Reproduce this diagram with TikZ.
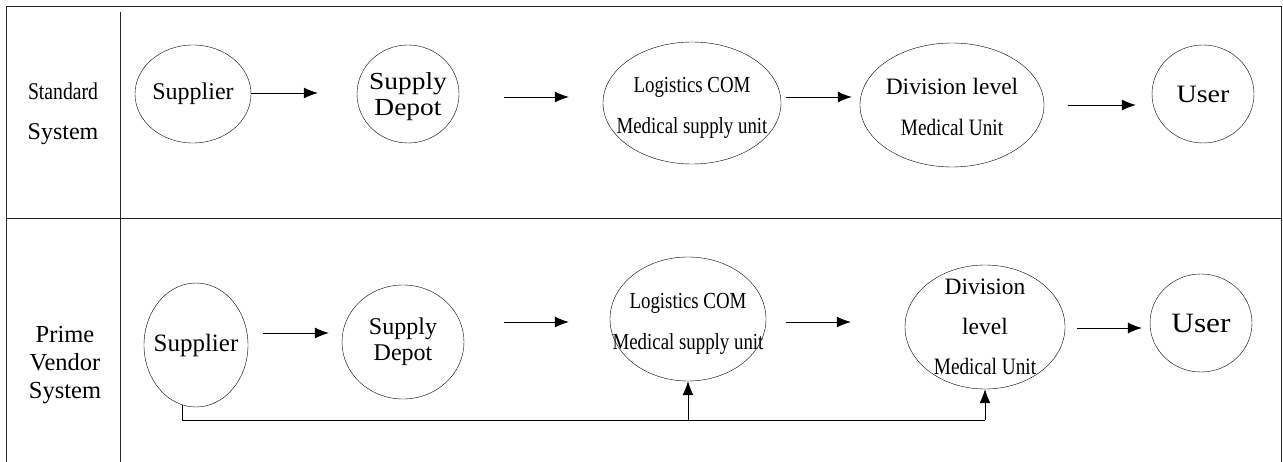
\documentclass[tikz,border=0pt]{standalone}
\usepackage{fontspec}
\setmainfont{Liberation Serif}
\newfontfamily\narrowfont[FakeStretch=0.82]{Liberation Serif}
\newfontfamily\wideserif[FakeStretch=1.12]{Liberation Serif}
\usetikzlibrary{shapes.geometric,arrows.meta,calc}
\begin{document}
\begin{tikzpicture}[x=1pt,y=-1pt,
    stage/.style={ellipse,draw,thin,inner sep=-30pt,align=center},
    arr/.style={thick,-{Latex[length=14pt,width=11pt]}},
    frame/.style={thick,black!85}]
      % Horizontal arrow: from, to, y offset, gap at start, gap at end
      \newcommand\flowarrow[5]{
        \coordinate (fa) at ($(#1.east)+(0,#3)$);
        \draw[arr,shorten <=#4,shorten >=#5] (fa) -- (fa -| #2.west);
      }
      % Page
      \useasboundingbox (0,0) rectangle (1283,462);

      % Table lines
      \draw[frame] (6,462) -- (6,6) -- (1281,6) -- (1281,462);
      \draw[frame] (6,218) -- (1281,218);
      \draw[frame] (120,12) -- (120,462);

      % Row labels
      \node[align=center,font=\fontsize{24}{40}\selectfont] (std) at (63,114)
        {{\narrowfont Standard}\\System};
      \node[align=center,font=\fontsize{24.5}{28}\selectfont] (pvs) at (65,365)
        {Prime\\Vendor\\System};

      % Standard system
      \node[stage,minimum width=116,minimum height=98,font=\fontsize{24}{26}\selectfont]
        (sup1) at (193,94) {Supplier};
      \node[stage,minimum width=102,minimum height=98,text height=49pt,
        font=\wideserif\fontsize{24.5}{26}\selectfont]
        (dep1) at (408,94) {Supply\\Depot};
      \node[stage,minimum width=178,minimum height=122,text height=66pt,
        font=\narrowfont\fontsize{23}{41}\selectfont]
        (log1) at (692,103) {Logistics COM\\Medical supply unit};
      \node[stage,minimum width=184,minimum height=124,text height=62pt,
        font=\narrowfont\fontsize{23.5}{41}\selectfont]
        (div1) at (952,105) {{\rmfamily Division level}\\Medical Unit};
      \node[stage,minimum width=102,minimum height=98,font=\wideserif\fontsize{25}{28}\selectfont]
        (usr1) at (1203,94) {User};

      \flowarrow{sup1}{dep1}{-1}{0pt}{39pt}
      \flowarrow{dep1}{log1}{3}{45pt}{34pt}
      \flowarrow{log1}{div1}{-6}{5pt}{8pt}
      \flowarrow{div1}{usr1}{0}{24pt}{16pt}

      % Prime vendor system
      \node[stage,minimum width=104,minimum height=124,font=\fontsize{25}{28}\selectfont]
        (sup2) at (196,345) {Supplier};
      \node[stage,minimum width=122,minimum height=114,font=\fontsize{24}{26}\selectfont]
        (dep2) at (403,342) {Supply\\Depot};
      \node[stage,minimum width=156,minimum height=124,text height=66pt,
        font=\narrowfont\fontsize{23}{41}\selectfont]
        (log2) at (688,319) {Logistics COM\\Medical supply unit};
      \node[stage,minimum width=160,minimum height=124,font=\narrowfont\fontsize{23.5}{40}\selectfont]
        (div2) at (985,327) {{\rmfamily Division}\\{\rmfamily level}\\Medical Unit};
      \node[stage,minimum width=102,minimum height=98,font=\wideserif\fontsize{28}{30}\selectfont]
        (usr2) at (1201,323) {User};

      \flowarrow{sup2}{dep2}{-12}{15pt}{13pt}
      \flowarrow{dep2}{log2}{-20}{40pt}{41pt}
      \flowarrow{log2}{div2}{3}{20pt}{54pt}
      \flowarrow{div2}{usr2}{1}{12pt}{8pt}

      % Direct delivery line
      \coordinate (bus) at (0,420);
      \draw[thick] (sup2.-103) |- (bus -| div2.south);
      \draw[arr] (bus -| log2.south) -- (log2.south);
      \draw[arr] (bus -| div2.south) -- (div2.south);
\end{tikzpicture}
\end{document}
